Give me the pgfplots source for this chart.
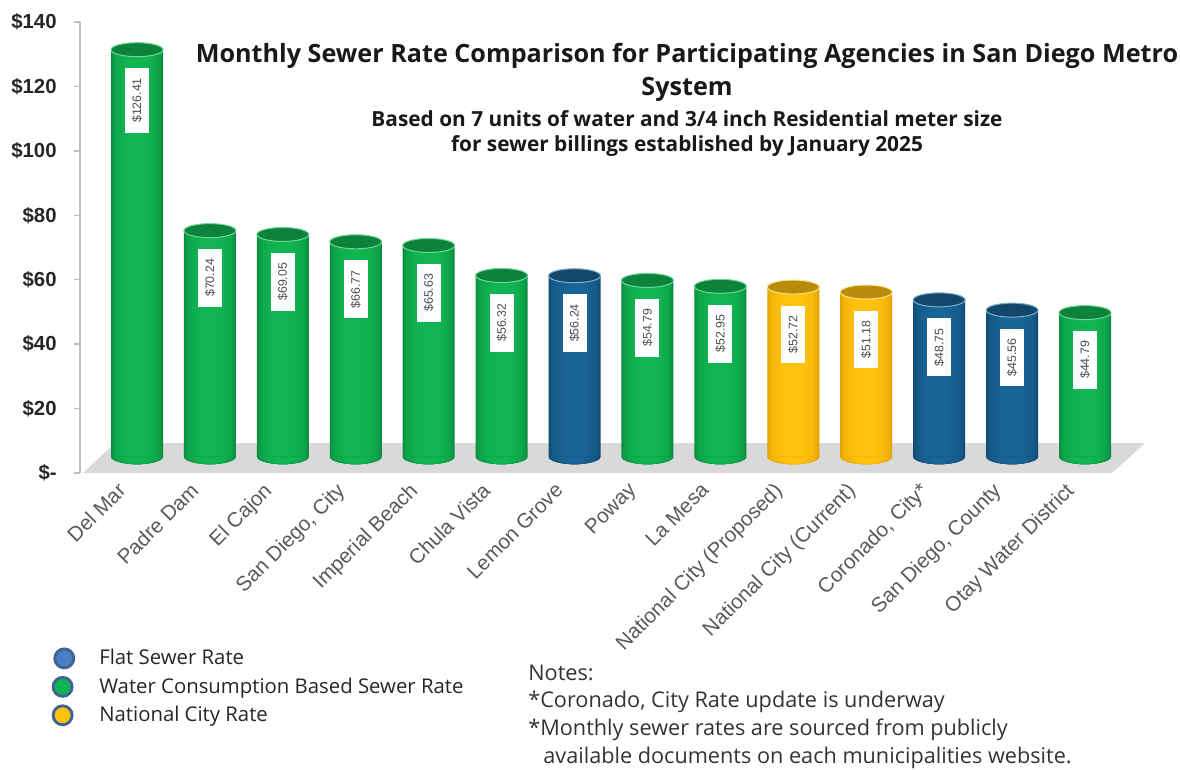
\documentclass[border=0pt]{standalone}
\usepackage{pgfplots}
\usepackage{pgfplotstable}
\usepackage{fontspec}
\pgfplotsset{compat=1.18}
\setmainfont{Liberation Sans}
\newfontfamily\titlef{Open Sans}
\newfontfamily\notef{Open Sans}
\definecolor{gmid}{HTML}{10B552}\definecolor{gedge}{HTML}{0A8A3E}\definecolor{grim}{HTML}{6FD69A}
\definecolor{bmid}{HTML}{1A6496}\definecolor{bedge}{HTML}{0F4A72}\definecolor{brim}{HTML}{7FB0CF}
\definecolor{ymid}{HTML}{FFC20E}\definecolor{yedge}{HTML}{E0A000}\definecolor{yrim}{HTML}{FFE48A}
\definecolor{ring}{HTML}{3F6396}\definecolor{flatleg}{HTML}{4A7FC1}
\pgfdeclareplotmark{captop}{\pgfpathellipse{\pgfqpoint{0pt}{0pt}}{\pgfqpoint{15.6pt}{0pt}}{\pgfqpoint{0pt}{4.2pt}}\pgfusepathqfillstroke}
\pgfdeclareplotmark{capfill}{\pgfpathmoveto{\pgfqpoint{-\pgfplotmarksize}{0pt}}\pgfpatharc{180}{360}{\pgfplotmarksize}\pgfpathclose\pgfusepathqfill}
\pgfplotstableread{
x y
0 126.41
1 70.24
2 69.05
3 66.77
4 65.63
5 56.32
7 54.79
8 52.95
13 44.79
}\tabGreen
\pgfplotstableread{
x y
6 56.24
11 48.75
12 45.56
}\tabBlue
\pgfplotstableread{
x y
9 52.72
10 51.18
}\tabGold
\pgfplotstableread{
x y
0 0
1 0
2 0
3 0
4 0
5 0
7 0
8 0
13 0
}\baseGreen
\pgfplotstableread{
x y
6 0
11 0
12 0
}\baseBlue
\pgfplotstableread{
x y
9 0
10 0
}\baseGold
% one layer of a cylinder: #1 table, #2 base table, #3 colour, #4 width in pt
\newcommand{\barlayer}[4]{%
  \addplot[only marks,forget plot,mark=capfill,mark size=4.4pt,mark options={fill=#3,xscale=#4/8.8}] table[x=x,y=y]{#2};
  \addplot[forget plot,ybar,bar width=#4pt,bar shift=0pt,draw=none,fill=#3] table[x=x,y=y]{#1};
}
\newcommand{\barset}[5]{%
  \barlayer{#1}{#5}{#2}{31.2}
  \barlayer{#1}{#5}{#3!25!#2}{30}
  \barlayer{#1}{#5}{#3!45!#2}{28.5}
  \barlayer{#1}{#5}{#3!60!#2}{26.5}
  \barlayer{#1}{#5}{#3!72!#2}{24}
  \barlayer{#1}{#5}{#3!82!#2}{21}
  \barlayer{#1}{#5}{#3!90!#2}{17.5}
  \barlayer{#1}{#5}{#3!96!#2}{13.5}
  \barlayer{#1}{#5}{#3}{9}
  \addplot[forget plot,only marks,mark=captop,mark options={draw=#4,fill=#3!72!black,line width=.6pt},
    nodes near coords={\$\pgfmathprintnumber[fixed,fixed zerofill,precision=2,assume math mode=true]{\pgfplotspointmeta}},
    nodes near coords style={rotate=90,anchor=east,xshift=-10.8pt,fill=white,font=\fontsize{7.4}{8}\selectfont,text=black!70,inner xsep=6pt,inner ysep=0pt,minimum height=14.4pt}]
    table[x=x,y=y]{#1};
}
\begin{document}
\begin{tikzpicture}
\path[use as bounding box] (0,0) rectangle (708pt,461.4pt);
\begin{axis}[
  at={(48pt,177.6pt)},anchor=south west,scale only axis,width=660pt,height=270.6pt,
  xmin=80,xmax=1180,ymin=0,ymax=140,clip=false,
  axis y line=left,axis x line=none,axis line style={-,draw=black!25,line width=1.2pt},
  ytick={0,20,...,140},
  yticklabels={\$-,\$20,\$40,\$60,\$80,\$100,\$120,\$140},
  yticklabel style={font=\fontsize{12.2}{14}\selectfont\bfseries,text=black!85,xshift=-7pt},
  y tick style={draw=black!25,line width=.9pt},
  tick align=outside,major tick length=3.5pt,
]
\addplot[fill=black!15,draw=none] coordinates {(83,0)(1112,0)(1145,9.3)(115,9.3)} --cycle;
\end{axis}
\begin{axis}[
  at={(48pt,177.6pt)},anchor=south west,scale only axis,width=660pt,height=270.6pt,
  xmin=-0.7817,xmax=14.303,ymin=-5,ymax=135,clip=false,
  axis lines=none,
  xtick={0,...,13},
  legend cell align=left,
  legend style={at={(axis description cs:-0.032,-0.383)},anchor=north west,draw=none,fill=none,
    font=\notef\fontsize{12.2}{14}\selectfont,text=black!85,row sep=2.3pt,inner sep=0pt},
]
\barset{\tabGreen}{gedge}{gmid}{grim}{\baseGreen}
\barset{\tabBlue}{bedge}{bmid}{brim}{\baseBlue}
\barset{\tabGold}{yedge}{ymid}{yrim}{\baseGold}
\addlegendimage{legend image code/.code={\path[draw=none,fill=none] (0,0) -- (30.5pt,0);\draw[ring,line width=1.7pt,fill=flatleg] (11.5pt,0pt) circle (5.7pt);}}
\addlegendentry{Flat Sewer Rate}
\addlegendimage{legend image code/.code={\path[draw=none,fill=none] (0,0) -- (30.5pt,0);\draw[ring,line width=1.7pt,fill=gmid] (10.5pt,0pt) circle (5.7pt);}}
\addlegendentry{Water Consumption Based Sewer Rate}
\addlegendimage{legend image code/.code={\path[draw=none,fill=none] (0,0) -- (30.5pt,0);\draw[ring,line width=1.7pt,fill=ymid] (10.5pt,0pt) circle (5.7pt);}}
\addlegendentry{National City Rate}
\end{axis}
\begin{axis}[
  at={(48pt,177.6pt)},anchor=south west,scale only axis,width=660pt,height=270.6pt,
  xmin=-0.7817,xmax=14.303,ymin=0,ymax=140,clip=false,
  axis y line=none,axis x line=bottom,axis line style={draw=none},
  xtick={0,...,13},major tick length=0pt,
  xticklabels={Del Mar,Padre Dam,El Cajon,{San Diego, City},Imperial Beach,Chula Vista,Lemon Grove,Poway,La Mesa,National City (Proposed),National City (Current),{Coronado, City*},{San Diego, County},Otay Water District},
  xticklabel style={rotate=45,anchor=north east,font=\fontsize{12.4}{14}\selectfont,text=black!65,xshift=-8.8pt,yshift=8.7pt},
]
\addplot[draw=none,forget plot] coordinates {(0,0)(13,0)};
\end{axis}
\begin{scope}[yshift=461.4pt,x=0.6pt,y=-0.6pt]
\node[font=\titlef\fontsize{15.1}{17}\selectfont\bfseries,text=black!90] at (687,56) {Monthly Sewer Rate Comparison for Participating Agencies in San Diego Metro};
\node[font=\titlef\fontsize{15.1}{17}\selectfont\bfseries,text=black!90] at (687,89) {System};
\node[font=\titlef\fontsize{12.5}{14}\selectfont\bfseries,text=black!90] at (687,119) {Based on 7 units of water and 3/4 inch Residential meter size};
\node[font=\titlef\fontsize{12.5}{14}\selectfont\bfseries,text=black!90] at (687,146) {for sewer billings established by January 2025};
\node[anchor=west,inner sep=0pt,font=\notef\fontsize{13}{15}\selectfont,text=black!80] at (528,673) {Notes:};
\node[anchor=west,inner sep=0pt,font=\notef\fontsize{13}{15}\selectfont,text=black!80] at (528,702) {*Coronado, City Rate update is underway};
\node[anchor=west,inner sep=0pt,font=\notef\fontsize{13}{15}\selectfont,text=black!80] at (528,730) {*Monthly sewer rates are sourced from publicly};
\node[anchor=west,inner sep=0pt,font=\notef\fontsize{13}{15}\selectfont,text=black!80] at (543,758) {available documents on each municipalities website.};
\end{scope}
\end{tikzpicture}
\end{document}
